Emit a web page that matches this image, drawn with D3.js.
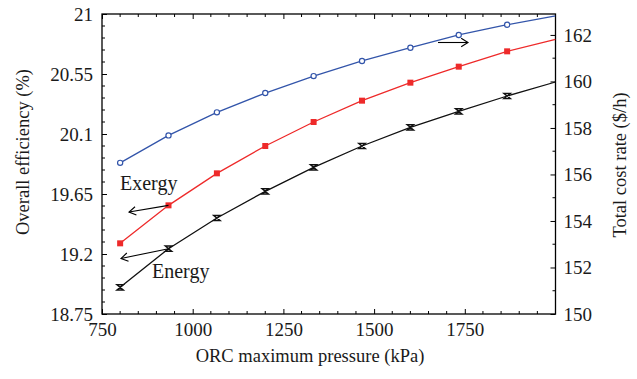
<!DOCTYPE html>
<html>
<head>
<meta charset="utf-8">
<script src="https://cdn.jsdelivr.net/npm/d3@7"></script>
<style>
  body { margin: 0; background: #fff; }
  svg { display: block; }
  text { font-family: "Liberation Serif", "DejaVu Serif", serif; fill: #1a1a1a; }
</style>
</head>
<body>
<svg id="chart" width="637" height="379"></svg>
<script>
// Data
const pressure = [800, 933.3, 1066.7, 1200, 1333.3, 1466.7, 1600, 1733.3, 1866.7, 2000];
const energyEff = [18.95, 19.24, 19.47, 19.67, 19.85, 20.01, 20.15, 20.27, 20.385, 20.49];
const exergyEff = [19.28, 19.565, 19.805, 20.01, 20.19, 20.35, 20.485, 20.605, 20.72, 20.81];
const costRate = [156.5, 157.68, 158.67, 159.5, 160.23, 160.88, 161.45, 162.0, 162.44, 162.82];
const xTicks = [750, 1000, 1250, 1500, 1750];
const yLeftTicks = [18.75, 19.2, 19.65, 20.1, 20.55, 21];
const yRightTicks = [150, 152, 154, 156, 158, 160, 162];

const svg = d3.select("#chart");
const L = 102, R = 555.5, T = 14, B = 314;

const x = d3.scaleLinear().domain([750, 2000]).range([L, R]);
const yL = d3.scaleLinear().domain([18.75, 21]).range([B, T]);
const yR = d3.scaleLinear().domain([150, 162.9]).range([B, T]);

const fsTick = 19, fsTitle = 18.5, fsNote = 20;

// minor ticks
const xMinor = d3.range(800, 2000, 50).filter(v => v % 250 !== 0);
const yLMinor = d3.range(0, 26).map(i => 18.75 + i * 0.09).filter((v, i) => i % 5 !== 0);
const yRMinor = [151, 153, 155, 157, 159, 161];

// bottom axis
const xAxis = d3.axisBottom(x).tickValues(xTicks).tickSize(-5).tickPadding(9).tickFormat(d3.format("d"));
const gx = svg.append("g").attr("transform", `translate(0,${B})`).call(xAxis);
gx.select(".domain").remove();
gx.selectAll("text").attr("font-size", fsTick).style("font-family", "Liberation Serif").attr("fill", "#1a1a1a");
gx.selectAll("line").attr("stroke", "#000");
// top axis ticks
const gxt = svg.append("g").attr("transform", `translate(0,${T})`).call(d3.axisTop(x).tickValues(xTicks).tickSize(-5).tickFormat(""));
gxt.select(".domain").remove();
// minor x ticks
[B, T].forEach((yy, k) => {
  svg.append("g").selectAll("line").data(xMinor).join("line")
    .attr("x1", d => x(d)).attr("x2", d => x(d))
    .attr("y1", yy).attr("y2", k === 0 ? yy - 3 : yy + 3)
    .attr("stroke", "#000");
});

// left axis
const gyl = svg.append("g").attr("transform", `translate(${L},0)`)
  .call(d3.axisLeft(yL).tickValues(yLeftTicks).tickSize(-5).tickPadding(9).tickFormat(d => String(d)));
gyl.select(".domain").remove();
gyl.selectAll("text").attr("font-size", fsTick).style("font-family", "Liberation Serif").attr("fill", "#1a1a1a");
svg.append("g").selectAll("line").data(yLMinor).join("line")
  .attr("x1", L).attr("x2", L + 3).attr("y1", d => yL(d)).attr("y2", d => yL(d)).attr("stroke", "#000");

// right axis
const gyr = svg.append("g").attr("transform", `translate(${R},0)`)
  .call(d3.axisRight(yR).tickValues(yRightTicks).tickSize(-5).tickPadding(8).tickFormat(d3.format("d")));
gyr.select(".domain").remove();
gyr.selectAll("text").attr("font-size", fsTick).style("font-family", "Liberation Serif").attr("fill", "#1a1a1a");
svg.append("g").selectAll("line").data(yRMinor).join("line")
  .attr("x1", R).attr("x2", R - 3).attr("y1", d => yR(d)).attr("y2", d => yR(d)).attr("stroke", "#000");

// frame
svg.append("rect").attr("x", L).attr("y", T).attr("width", R - L).attr("height", B - T)
  .attr("fill", "none").attr("stroke", "#000").attr("stroke-width", 1.3);

// clip
svg.append("clipPath").attr("id", "clip").append("rect")
  .attr("x", L).attr("y", T).attr("width", R - L).attr("height", B - T);
const plot = svg.append("g").attr("clip-path", "url(#clip)");

const lineL = vals => d3.line().x((d, i) => x(pressure[i])).y(d => yL(d))(vals);
const lineR = vals => d3.line().x((d, i) => x(pressure[i])).y(d => yR(d))(vals);

const blue = "#3355aa", red = "#ee2a2a", black = "#111";

plot.append("path").attr("d", lineR(costRate)).attr("fill", "none").attr("stroke", blue).attr("stroke-width", 1.3);
plot.append("path").attr("d", lineL(exergyEff)).attr("fill", "none").attr("stroke", red).attr("stroke-width", 1.3);
plot.append("path").attr("d", lineL(energyEff)).attr("fill", "none").attr("stroke", black).attr("stroke-width", 1.3);

const nPts = pressure.length - 1; // last point sits on the right frame, no marker visible
// blue open circles
plot.selectAll(".cb").data(costRate.slice(0, nPts)).join("circle")
  .attr("cx", (d, i) => x(pressure[i])).attr("cy", d => yR(d)).attr("r", 2.6)
  .attr("fill", "#fff").attr("stroke", blue).attr("stroke-width", 1.2);
// red squares
plot.selectAll(".sr").data(exergyEff.slice(0, nPts)).join("rect")
  .attr("x", (d, i) => x(pressure[i]) - 3).attr("y", d => yL(d) - 3).attr("width", 6).attr("height", 6)
  .attr("fill", red);
// black hourglass
plot.selectAll(".hb").data(energyEff.slice(0, nPts)).join("path")
  .attr("transform", (d, i) => `translate(${x(pressure[i])},${yL(d)})`)
  .attr("d", "M-3.2,-2.6L3.2,-2.6L-3.2,2.6L3.2,2.6Z")
  .attr("fill", "none").attr("stroke", black).attr("stroke-width", 1.4);

// annotations (arrows)
function arrow(x1, y1, x2, y2) {
  const g = svg.append("g").attr("stroke", "#000").attr("stroke-width", 1.1).attr("fill", "none");
  g.append("line").attr("x1", x1).attr("y1", y1).attr("x2", x2).attr("y2", y2);
  const a = Math.atan2(y2 - y1, x2 - x1), len = 8, w = 0.55;
  const p1 = [x2 - len * Math.cos(a - w), y2 - len * Math.sin(a - w)];
  const p2 = [x2 - len * Math.cos(a + w), y2 - len * Math.sin(a + w)];
  g.append("path").attr("d", `M${p1}L${x2},${y2}L${p2}`);
}
arrow(x(pressure[1]), yL(exergyEff[1]), 129, 212);
arrow(x(pressure[1]), yL(energyEff[1]), 121, 258.5);
arrow(438, 42.5, 468, 42.5);

svg.append("text").attr("x", 120).attr("y", 190).attr("font-size", fsNote).text("Exergy");
svg.append("text").attr("x", 152).attr("y", 278).attr("font-size", fsNote).text("Energy");

// axis titles
svg.append("text").attr("x", 310).attr("y", 362).attr("text-anchor", "middle")
  .attr("font-size", fsTitle).text("ORC maximum pressure (kPa)");
svg.append("text").attr("transform", `translate(29,152) rotate(-90)`)
  .attr("text-anchor", "middle").attr("font-size", fsTitle).text("Overall efficiency (%)");
svg.append("text").attr("transform", `translate(626,165) rotate(-90)`)
  .attr("text-anchor", "middle").attr("font-size", fsTitle).text("Total cost rate ($/h)");
</script>
</body>
</html>
